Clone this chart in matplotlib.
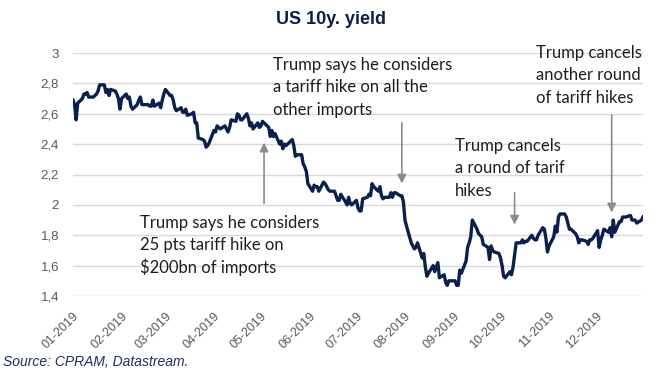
import matplotlib
matplotlib.use("Agg")
import matplotlib.pyplot as plt
import matplotlib.dates as mdates
from matplotlib.ticker import FuncFormatter, FixedLocator
import pandas as pd
import numpy as np

# ---------------- data (weekdays of 2019, holidays carry previous value) ----------
yld_jan = [2.69, 2.66, 2.56, 2.67, 2.70, 2.73, 2.73, 2.74, 2.71, 2.71, 2.72, 2.73,
           2.75, 2.79, 2.79, 2.74, 2.76, 2.72, 2.76, 2.75, 2.73, 2.70, 2.63]
yld_feb = [2.70, 2.73, 2.70, 2.71, 2.65, 2.63, 2.66, 2.69, 2.71, 2.66, 2.66, 2.66,
           2.65, 2.65, 2.69, 2.65, 2.67, 2.64, 2.69, 2.73]
yld_mar = [2.76, 2.72, 2.72, 2.69, 2.64, 2.62, 2.64, 2.61, 2.61, 2.63, 2.59, 2.60,
           2.61, 2.54, 2.54, 2.44, 2.43, 2.42, 2.38, 2.39, 2.41]
yld_apr = [2.49, 2.48, 2.52, 2.51, 2.50, 2.52, 2.50, 2.48, 2.51, 2.56, 2.55, 2.60,
           2.59, 2.56, 2.56, 2.60, 2.57, 2.52, 2.54, 2.50, 2.54, 2.51]
yld_may = [2.52, 2.55, 2.54, 2.51, 2.45, 2.49, 2.45, 2.47, 2.40, 2.42, 2.37, 2.40,
           2.39, 2.42, 2.43, 2.39, 2.32, 2.33, 2.33, 2.27, 2.25, 2.22, 2.14]
yld_jun = [2.09, 2.13, 2.12, 2.12, 2.09, 2.15, 2.14, 2.12, 2.10, 2.09, 2.09, 2.06,
           2.03, 2.03, 2.07, 2.02, 2.00, 2.05, 2.01, 2.00]
yld_jul = [2.03, 1.98, 1.96, 1.96, 2.04, 2.05, 2.07, 2.06, 2.14, 2.12, 2.09, 2.12,
           2.06, 2.04, 2.05, 2.05, 2.08, 2.05, 2.08, 2.08, 2.06, 2.06, 2.02]
yld_aug = [1.90, 1.86, 1.75, 1.73, 1.71, 1.72, 1.75, 1.65, 1.68, 1.59, 1.53, 1.55,
           1.60, 1.56, 1.59, 1.62, 1.52, 1.54, 1.49, 1.47, 1.50, 1.50]
yld_sep = [1.50, 1.47, 1.47, 1.57, 1.55, 1.63, 1.72, 1.75, 1.79, 1.90, 1.84, 1.81,
           1.80, 1.79, 1.74, 1.72, 1.64, 1.73, 1.70, 1.69, 1.68]
yld_oct = [1.65, 1.60, 1.53, 1.52, 1.56, 1.54, 1.59, 1.67, 1.75, 1.75, 1.77, 1.75,
           1.76, 1.76, 1.80, 1.78, 1.77, 1.77, 1.80, 1.85, 1.84, 1.78, 1.69]
yld_nov = [1.73, 1.79, 1.86, 1.82, 1.92, 1.94, 1.94, 1.92, 1.88, 1.84, 1.84, 1.81,
           1.79, 1.75, 1.77, 1.77, 1.76, 1.74, 1.77, 1.77, 1.78]
yld_dec = [1.83, 1.72, 1.77, 1.80, 1.84, 1.82, 1.85, 1.79, 1.90, 1.82, 1.89, 1.89,
           1.92, 1.92, 1.92, 1.93, 1.90, 1.90, 1.90, 1.88, 1.90, 1.92]

y_ticks = [1.4, 1.6, 1.8, 2.0, 2.2, 2.4, 2.6, 2.8, 3.0]
month_ticks = ["2019-%02d-01" % m for m in range(1, 13)]

title = "US 10y. yield"
source = "Source: CPRAM, Datastream."

# annotations: (text lines, arrow x date, arrow tail y, arrow tip y)
notes = [
    (["Trump says he considers", "25 pts tariff hike on", "$200bn of imports"],
     "2019-05-03", 2.01, 2.41),
    (["Trump says he considers", "a tariff hike on all the", "other imports"],
     "2019-07-30", 2.54, 2.14),
    (["Trump cancels", "a round of tarif", "hikes"],
     "2019-10-10", 2.08, 1.87),
    (["Trump cancels", "another round", "of tariff hikes"],
     "2019-12-11", 2.59, 1.95),
]
# text block positions in pixels (left x, first-line center y) and line step
note_pos = [(140, 223), (273, 65), (455, 146), (536, 53)]
line_step = 22.3

# ---------------- build ---------------------------------------------------------
yields = (yld_jan + yld_feb + yld_mar + yld_apr + yld_may + yld_jun +
          yld_jul + yld_aug + yld_sep + yld_oct + yld_nov + yld_dec)
dates = pd.bdate_range("2019-01-01", "2019-12-31")
n = min(len(dates), len(yields))
series = pd.Series(yields[:n], index=dates[:n])

W, H = 660, 382
fig = plt.figure(figsize=(W / 100, H / 100), dpi=100)
fig.patch.set_facecolor("white")

left, right, top, bottom = 73, 643, 53, 296
ax = fig.add_axes([left / W, 1 - bottom / H, (right - left) / W, (bottom - top) / H])
ax.set_facecolor("white")

ax.plot(series.index, series.values, color="#0B1F4F", lw=2.4, solid_joinstyle="round")

ax.set_ylim(1.4, 3.0)
ax.set_xlim(pd.Timestamp("2019-01-01"), pd.Timestamp("2019-12-31"))
ax.yaxis.set_major_locator(FixedLocator(y_ticks))
ax.yaxis.set_major_formatter(FuncFormatter(lambda v, p: ("%g" % round(v, 2)).replace(".", ",")))
ax.grid(axis="y", color="#D9D9D9", lw=1.0)
ax.set_axisbelow(True)
for s in ax.spines.values():
    s.set_visible(False)

xt = [mdates.date2num(pd.Timestamp(d)) for d in month_ticks]
ax.set_xticks(xt)
ax.set_xticklabels([pd.Timestamp(d).strftime("%m-%Y") for d in month_ticks],
                   rotation=45, ha="right", va="top", rotation_mode="anchor",
                   fontsize=9, color="#595959", family="Liberation Sans")
ax.tick_params(axis="x", length=0, pad=10)
ax.tick_params(axis="y", length=0, pad=10, labelsize=9.5, labelcolor="#595959")
for lab in ax.get_yticklabels():
    lab.set_family("Liberation Sans")

fig.text(331 / W, 1 - 19 / H, title, ha="center", va="center",
         fontsize=13, fontweight="bold", color="#0B1F4F", family="Liberation Sans")
fig.text(3 / W, 1 - 362 / H, source, ha="left", va="center",
         fontsize=10, style="italic", color="#1F2D6B", family="Liberation Sans")

for (lines, xd, ytail, ytip), (px, py) in zip(notes, note_pos):
    for i, line in enumerate(lines):
        fig.text(px / W, 1 - (py + i * line_step) / H, line, ha="left", va="center",
                 fontsize=12, color="#1E1E1E", family="Lato")
    xdn = mdates.date2num(pd.Timestamp(xd))
    ax.annotate("", xy=(xdn, ytip), xytext=(xdn, ytail),
                arrowprops=dict(arrowstyle="-|>", color="#8C8C8C", lw=1.2,
                                mutation_scale=13, shrinkA=0, shrinkB=0))

fig.savefig("out.png", dpi=100)
